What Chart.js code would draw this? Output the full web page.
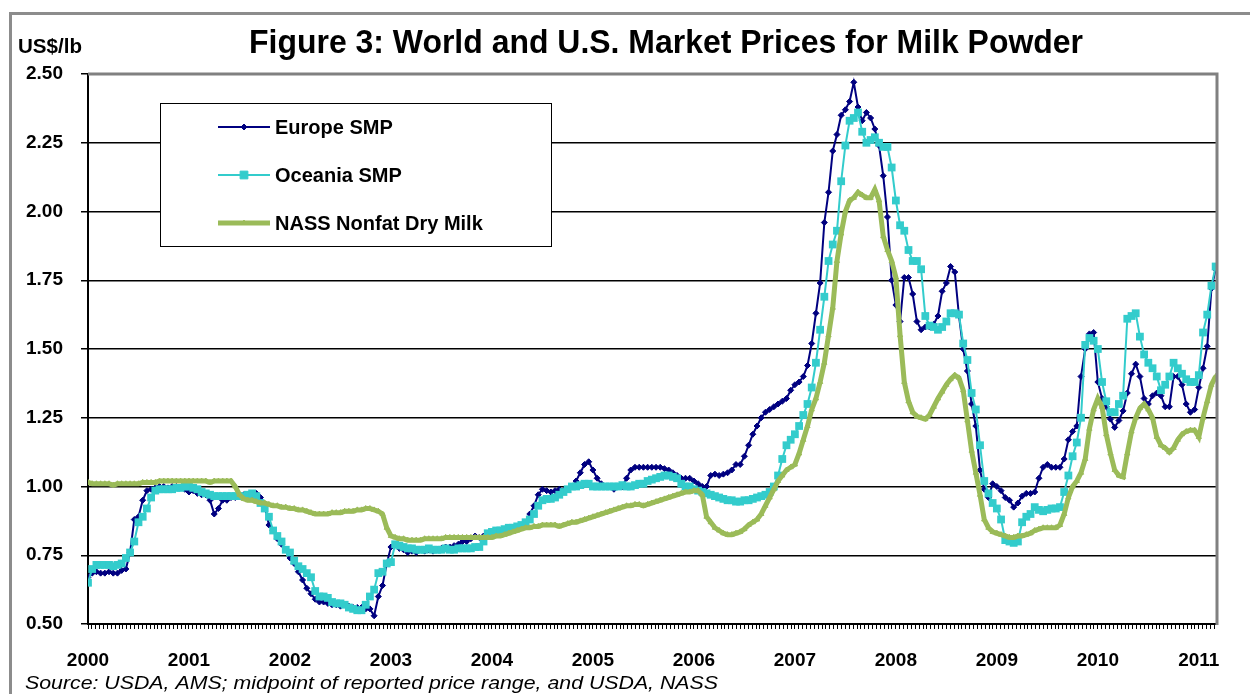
<!DOCTYPE html>
<html><head><meta charset="utf-8">
<script src="https://cdn.jsdelivr.net/npm/chart.js@4.4.1/dist/chart.umd.min.js"></script>
<style>html,body{margin:0;padding:0;background:#fff;}#wrap{width:1250px;height:694px;position:relative;}</style>
</head><body><div id="wrap"><canvas id="c" width="1250" height="694"></canvas></div>
<script>
// ---- DATA (semi-monthly observations, first period = Jan 2000) ----
const startYear = 2000;
const periodsPerYear = 24;
const yearLabels = ['2000','2001','2002','2003','2004','2005','2006','2007','2008','2009','2010','2011'];
const yTickValues = [0.50,0.75,1.00,1.25,1.50,1.75,2.00,2.25,2.50];
const titleText = 'Figure 3: World and U.S. Market Prices for Milk Powder';
const unitText = 'US$/lb';
const sourceText = 'Source: USDA, AMS; midpoint of reported price range, and USDA, NASS';
const seriesNames = ['Europe SMP','Oceania SMP','NASS Nonfat Dry Milk'];

const europeSMP = [
 0.67,0.685,0.69,0.685,0.685,0.69,0.685,0.685,0.695,0.70,0.76,0.88,0.89,0.95,0.985,0.99,0.995,1.00,1.00,0.995,1.00,1.00,0.995,0.99,
 0.98,0.985,0.975,0.97,0.97,0.95,0.90,0.92,0.95,0.95,0.96,0.96,0.965,0.97,0.965,0.97,0.975,0.96,0.93,0.86,0.84,0.81,0.79,0.77,
 0.74,0.72,0.69,0.66,0.63,0.61,0.59,0.58,0.58,0.575,0.57,0.57,0.565,0.57,0.565,0.56,0.56,0.56,0.555,0.555,0.53,0.60,0.64,0.72,
 0.78,0.79,0.775,0.77,0.76,0.765,0.76,0.77,0.765,0.77,0.765,0.77,0.775,0.78,0.78,0.785,0.79,0.80,0.80,0.81,0.82,0.815,0.82,0.83,
 0.835,0.84,0.84,0.845,0.85,0.85,0.85,0.85,0.87,0.90,0.93,0.97,0.99,0.985,0.98,0.985,0.99,0.985,0.99,1.00,1.02,1.05,1.08,1.09,
 1.06,1.03,1.01,1.00,1.00,0.99,1.00,1.00,1.03,1.06,1.07,1.07,1.07,1.07,1.07,1.07,1.07,1.065,1.06,1.05,1.04,1.03,1.03,1.03,
 1.02,1.01,1.00,1.00,1.04,1.045,1.04,1.045,1.05,1.06,1.08,1.08,1.11,1.15,1.19,1.22,1.25,1.27,1.28,1.29,1.30,1.31,1.32,1.35,
 1.37,1.38,1.40,1.44,1.52,1.63,1.74,1.96,2.07,2.22,2.28,2.35,2.37,2.40,2.47,2.38,2.33,2.36,2.34,2.30,2.24,2.13,1.98,1.75,
 1.66,1.60,1.76,1.76,1.70,1.60,1.57,1.58,1.58,1.59,1.62,1.71,1.74,1.80,1.78,1.62,1.50,1.42,1.30,1.22,1.06,0.99,0.96,1.01,
 1.00,0.985,0.96,0.95,0.925,0.94,0.965,0.975,0.975,0.98,1.03,1.07,1.08,1.07,1.07,1.07,1.10,1.17,1.20,1.22,1.40,1.50,1.555,1.56,
 1.38,1.32,1.29,1.245,1.215,1.24,1.275,1.34,1.41,1.445,1.40,1.32,1.30,1.33,1.34,1.33,1.29,1.29,1.40,1.40,1.37,1.30,1.27,1.28,
 1.36,1.43,1.51,1.72,1.79
];
const oceaniaSMP = [
 0.65,0.70,0.715,0.715,0.715,0.715,0.71,0.715,0.72,0.74,0.76,0.80,0.87,0.89,0.92,0.96,0.985,0.99,0.99,0.99,0.99,0.995,0.995,1.00,
 1.00,0.995,0.99,0.98,0.975,0.97,0.965,0.965,0.965,0.965,0.965,0.965,0.965,0.965,0.97,0.975,0.965,0.94,0.92,0.89,0.84,0.82,0.80,0.77,
 0.76,0.73,0.71,0.70,0.685,0.67,0.62,0.60,0.60,0.595,0.58,0.575,0.575,0.57,0.56,0.555,0.55,0.55,0.57,0.60,0.625,0.685,0.69,0.72,
 0.725,0.79,0.785,0.78,0.775,0.775,0.77,0.77,0.77,0.775,0.77,0.77,0.77,0.775,0.77,0.77,0.775,0.775,0.775,0.775,0.78,0.78,0.80,0.83,
 0.835,0.84,0.84,0.845,0.85,0.85,0.855,0.86,0.87,0.88,0.90,0.93,0.95,0.955,0.955,0.96,0.97,0.98,0.99,1.00,1.00,1.005,1.01,1.01,
 1.00,1.00,1.00,1.00,1.00,1.00,1.00,1.005,1.00,1.00,1.005,1.01,1.01,1.02,1.025,1.03,1.035,1.04,1.04,1.035,1.03,1.01,1.00,1.00,
 0.99,0.985,0.98,0.975,0.97,0.965,0.96,0.955,0.95,0.95,0.945,0.945,0.95,0.95,0.955,0.96,0.965,0.97,0.98,1.00,1.04,1.10,1.15,1.17,
 1.19,1.22,1.26,1.30,1.36,1.45,1.57,1.69,1.82,1.88,1.93,2.11,2.24,2.33,2.34,2.36,2.29,2.25,2.26,2.27,2.25,2.235,2.235,2.16,
 2.04,1.95,1.93,1.86,1.82,1.82,1.79,1.62,1.585,1.58,1.57,1.58,1.60,1.63,1.63,1.625,1.52,1.46,1.34,1.28,1.15,1.02,0.975,0.94,
 0.92,0.88,0.805,0.80,0.795,0.80,0.87,0.89,0.90,0.925,0.915,0.91,0.915,0.92,0.92,0.925,0.98,1.04,1.11,1.16,1.25,1.515,1.54,1.53,
 1.50,1.38,1.31,1.27,1.27,1.30,1.33,1.61,1.62,1.63,1.545,1.48,1.45,1.43,1.40,1.35,1.37,1.40,1.45,1.43,1.41,1.39,1.38,1.38,
 1.405,1.56,1.625,1.73,1.80
];
const nassNFDM = [
 1.015,1.01,1.01,1.01,1.01,1.01,1.005,1.01,1.01,1.01,1.01,1.01,1.01,1.015,1.015,1.015,1.015,1.02,1.02,1.02,1.02,1.02,1.02,1.02,
 1.02,1.02,1.02,1.02,1.02,1.015,1.02,1.02,1.02,1.02,1.02,1.00,0.97,0.955,0.95,0.95,0.945,0.94,0.94,0.935,0.93,0.93,0.925,0.925,
 0.92,0.92,0.915,0.915,0.91,0.905,0.90,0.90,0.90,0.90,0.905,0.905,0.905,0.91,0.91,0.91,0.915,0.915,0.92,0.92,0.915,0.91,0.90,0.85,
 0.82,0.815,0.81,0.81,0.805,0.805,0.805,0.805,0.81,0.81,0.81,0.81,0.81,0.815,0.815,0.815,0.815,0.815,0.815,0.815,0.815,0.815,0.815,0.815,
 0.815,0.82,0.82,0.825,0.83,0.835,0.84,0.845,0.85,0.85,0.855,0.855,0.86,0.86,0.86,0.86,0.855,0.86,0.865,0.87,0.87,0.875,0.88,0.885,
 0.89,0.895,0.90,0.905,0.91,0.915,0.92,0.925,0.93,0.93,0.935,0.935,0.93,0.935,0.94,0.945,0.95,0.955,0.96,0.965,0.97,0.975,0.98,0.98,
 0.985,0.985,0.97,0.89,0.87,0.85,0.84,0.83,0.825,0.825,0.83,0.835,0.845,0.86,0.87,0.88,0.90,0.93,0.96,0.99,1.02,1.04,1.06,1.07,
 1.08,1.12,1.17,1.22,1.28,1.32,1.38,1.45,1.55,1.65,1.82,1.92,2.00,2.04,2.05,2.07,2.06,2.05,2.05,2.08,2.04,1.91,1.86,1.82,
 1.76,1.55,1.38,1.31,1.27,1.255,1.25,1.245,1.26,1.29,1.32,1.345,1.37,1.39,1.405,1.395,1.35,1.24,1.13,1.05,0.97,0.88,0.85,0.835,
 0.83,0.825,0.82,0.815,0.815,0.82,0.82,0.825,0.83,0.84,0.845,0.85,0.85,0.85,0.85,0.86,0.90,0.96,1.00,1.02,1.05,1.10,1.21,1.28,
 1.32,1.29,1.19,1.12,1.06,1.04,1.035,1.12,1.20,1.25,1.285,1.30,1.28,1.25,1.18,1.15,1.14,1.125,1.14,1.17,1.19,1.20,1.205,1.205,
 1.18,1.25,1.31,1.37,1.40
];

// ---- chart ----
const toPoints = arr => arr.map((v, i) => ({ x: startYear + i / periodsPerYear, y: v }));
const xMin = 2000, xMax = 2011.18;
const FONT = "'Liberation Sans', Arial, sans-serif";

function fitText(ctx, text, x, y, width) {
  const w = ctx.measureText(text).width;
  ctx.save(); ctx.translate(x, y); ctx.scale(width / w, 1); ctx.fillText(text, 0, 0); ctx.restore();
}

const decor = {
  id: 'decor',
  beforeDraw(chart) {
    const ctx = chart.ctx;
    ctx.save();
    ctx.fillStyle = '#fff';
    ctx.fillRect(0, 0, chart.width, chart.height);
    ctx.restore();
  },
  afterDraw(chart) {
    const ctx = chart.ctx, a = chart.chartArea;
    ctx.save();
    // outer frame
    ctx.strokeStyle = '#8c8c8c'; ctx.lineWidth = 3;
    ctx.beginPath(); ctx.moveTo(10.5, 700); ctx.lineTo(10.5, 13.5); ctx.lineTo(1260, 13.5); ctx.stroke();
    // plot border top & right
    ctx.strokeStyle = '#808080'; ctx.lineWidth = 3;
    ctx.beginPath(); ctx.moveTo(a.left, a.top); ctx.lineTo(a.right, a.top); ctx.lineTo(a.right, a.bottom + 1); ctx.stroke();
    // title
    ctx.fillStyle = '#000';
    ctx.font = 'bold 34px ' + FONT;
    ctx.textBaseline = 'middle'; ctx.textAlign = 'left';
    fitText(ctx, titleText, 249, 44, 834);
    // unit
    ctx.font = 'bold 20px ' + FONT;
    fitText(ctx, unitText, 18, 47, 64);
    // source
    ctx.font = 'italic 19px ' + FONT;
    ctx.textBaseline = 'alphabetic';
    fitText(ctx, sourceText, 25, 689, 693);
    // legend
    const lx = 160.5, ly = 103.5, lw = 391, lh = 143;
    ctx.fillStyle = '#fff'; ctx.fillRect(lx, ly, lw, lh);
    ctx.strokeStyle = '#000'; ctx.lineWidth = 1; ctx.strokeRect(lx, ly, lw, lh);
    const rows = [127, 175, 223];
    chart.data.datasets.forEach((ds, i) => {
      const y = rows[i];
      ctx.strokeStyle = ds.borderColor; ctx.lineWidth = ds.borderWidth;
      ctx.beginPath(); ctx.moveTo(218, y); ctx.lineTo(270, y); ctx.stroke();
      ctx.save();
      ctx.fillStyle = ds.pointBackgroundColor; ctx.strokeStyle = ds.pointBorderColor; ctx.lineWidth = 1;
      Chart.helpers.drawPoint(ctx, { pointStyle: ds.pointStyle, radius: ds.pointRadius, borderWidth: 1, rotation: 0 }, 244, y);
      ctx.restore();
      ctx.fillStyle = '#000';
      ctx.font = 'bold 20px ' + FONT;
      ctx.textBaseline = 'middle'; ctx.textAlign = 'left';
      ctx.fillText(seriesNames[i], 275, y + 1);
    });
    ctx.restore();
  }
};

new Chart(document.getElementById('c'), {
  type: 'line',
  data: {
    datasets: [
      { label: seriesNames[0], data: toPoints(europeSMP), borderColor: '#000080', backgroundColor: '#000080',
        borderWidth: 2, pointStyle: 'rectRot', pointRadius: 3, pointBackgroundColor: '#000080', pointBorderColor: '#000080',
        pointBorderWidth: 1, order: 3, tension: 0 },
      { label: seriesNames[1], data: toPoints(oceaniaSMP), borderColor: '#33CCCC', backgroundColor: '#33CCCC',
        borderWidth: 2, pointStyle: 'rect', pointRadius: 5.5, pointBackgroundColor: '#33CCCC', pointBorderColor: '#33CCCC',
        pointBorderWidth: 0, order: 2, tension: 0 },
      { label: seriesNames[2], data: toPoints(nassNFDM), borderColor: '#9BBB59', backgroundColor: '#9BBB59',
        borderWidth: 5, pointStyle: 'triangle', pointRadius: 3, pointBackgroundColor: '#9BBB59', pointBorderColor: '#9BBB59',
        pointBorderWidth: 1, order: 1, tension: 0 }
    ]
  },
  options: {
    responsive: false, animation: false, events: [],
    layout: { padding: { left: 0, top: 74, right: 33, bottom: 0 } },
    plugins: { legend: { display: false }, tooltip: { enabled: false }, title: { display: false } },
    scales: {
      x: {
        type: 'linear', min: xMin, max: xMax,
        afterBuildTicks: (scale) => {
          const t = [];
          for (let k = 0; startYear + k / 26 <= xMax + 1e-9; k++) t.push({ value: startYear + k / 26 });
          scale.ticks = t;
        },
        afterFit: (scale) => { scale.height = 70; },
        ticks: {
          autoSkip: false, maxRotation: 0, minRotation: 0, padding: 20, color: '#000',
          font: { family: FONT, size: 19, weight: 'bold' },
          callback: (v) => {
            const r = Math.round(v);
            if (Math.abs(v - r) < 1e-6) { const idx = r - startYear; return yearLabels[idx] || ''; }
            return '';
          }
        },
        grid: { drawOnChartArea: false, drawTicks: true, tickLength: 5, color: '#000', lineWidth: 1 },
        border: { display: true, color: '#000', width: 2 }
      },
      y: {
        type: 'linear', min: 0.5, max: 2.5,
        afterBuildTicks: (scale) => { scale.ticks = yTickValues.map(v => ({ value: v })); },
        afterFit: (scale) => { scale.width = 88; },
        ticks: {
          padding: 18, color: '#000', font: { family: FONT, size: 19, weight: 'bold' },
          callback: (v) => v.toFixed(2)
        },
        grid: {
          drawTicks: true, tickLength: 7,
          color: (c) => (c.tick && c.tick.value === 2.5) ? 'rgba(0,0,0,0)' : '#000',
          tickColor: '#000', lineWidth: 1.5, tickWidth: 1.5
        },
        border: { display: true, color: '#000', width: 2 }
      }
    }
  },
  plugins: [decor]
});
</script>
</body></html>
